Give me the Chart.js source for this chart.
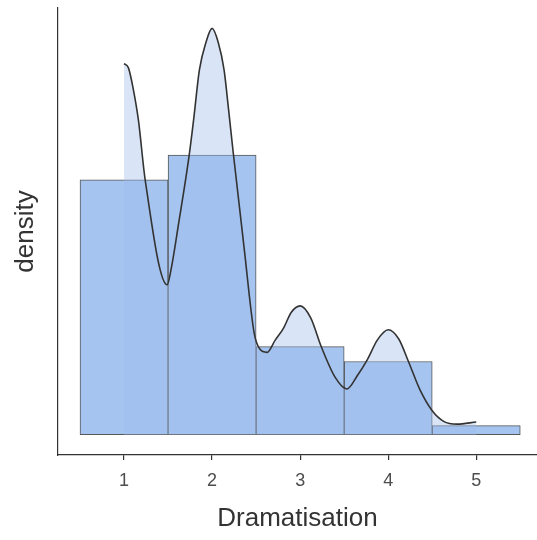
<!DOCTYPE html>
<html>
<head>
<meta charset="utf-8">
<script src="https://cdn.jsdelivr.net/npm/chart.js@4"></script>
<style>
  html, body { margin: 0; padding: 0; background: #fff; }
  #wrap { width: 537px; height: 540px; }
</style>
</head>
<body>
<div id="wrap"><canvas id="chart" width="537" height="540"></canvas></div>
<script>
// histogram bins (centres) and their density heights
const binCentres = [1, 2, 3, 4, 5];
const binDensity = [0.362, 0.397, 0.125, 0.104, 0.013];

// density curve
const curveX = [1.00, 1.05, 1.10, 1.163, 1.24, 1.49, 1.53, 1.62, 1.74, 1.79, 1.856, 1.93, 2.00,
  2.07, 2.136, 2.187, 2.237, 2.364, 2.477, 2.54, 2.625, 2.715, 2.81, 2.90, 3.00, 3.12, 3.24, 3.40, 3.53,
  3.65, 3.76, 3.88, 4.00, 4.12, 4.23, 4.36, 4.50, 4.63, 4.78, 5.00];
const curveY = [0.527, 0.521, 0.494, 0.447, 0.362, 0.213, 0.232, 0.30, 0.397, 0.447, 0.518, 0.557, 0.577,
  0.557, 0.518, 0.462, 0.404, 0.265, 0.145, 0.122, 0.117, 0.134, 0.151, 0.174, 0.183, 0.166, 0.125, 0.081, 0.065,
  0.084, 0.106, 0.135, 0.149, 0.136, 0.104, 0.064, 0.034, 0.019, 0.015, 0.018];

const xTicks = [1, 2, 3, 4, 5];

const bars = binCentres.map((x, i) => ({ x: x, y: binDensity[i] }));
const curve = curveX.map((x, i) => ({ x: x, y: curveY[i] }));

new Chart(document.getElementById('chart'), {
  type: 'bar',
  data: {
    datasets: [
      {
        type: 'line',
        data: curve,
        order: 0,
        borderColor: '#333333',
        borderWidth: 1.6,
        backgroundColor: 'rgba(160,190,235,0.4)',
        fill: 'origin',
        pointRadius: 0,
        cubicInterpolationMode: 'monotone'
      },
      {
        data: bars,
        order: 1,
        backgroundColor: 'rgb(165,196,240)',
        borderColor: 'rgba(45,45,45,0.8)',
        borderWidth: 1,
        borderSkipped: false,
        barPercentage: 1,
        categoryPercentage: 1
      }
    ]
  },
  options: {
    responsive: false,
    animation: false,
    layout: { padding: { top: 8, right: 0, left: 0, bottom: 0 } },
    plugins: { legend: { display: false }, tooltip: { enabled: false } },
    scales: {
      x: {
        type: 'linear',
        min: 0.25,
        max: 5.69,
        offset: false,
        afterBuildTicks: (s) => { s.ticks = xTicks.map(v => ({ value: v })); },
        afterFit: (s) => { s.height = 85; },
        grid: { offset: false, drawOnChartArea: false, drawTicks: true, tickLength: 5, color: '#333', lineWidth: 1.2 },
        border: { display: true, color: '#333', width: 1.2 },
        ticks: { color: '#4d4d4d', font: { family: 'Liberation Sans', size: 18 }, padding: 10 },
        title: {
          display: true, text: 'Dramatisation', color: '#333',
          font: { family: 'Liberation Sans', size: 26 }, padding: { top: 0, bottom: 6 }
        }
      },
      y: {
        min: -0.0288,
        max: 0.606,
        afterFit: (s) => { s.width = 58; },
        grid: { display: false },
        border: { display: true, color: '#333', width: 1.2 },
        ticks: { display: false },
        title: {
          display: true, text: 'density', color: '#333',
          font: { family: 'Liberation Sans', size: 26 }, padding: { top: 10, bottom: 0 }
        }
      }
    }
  }
});
</script>
</body>
</html>
